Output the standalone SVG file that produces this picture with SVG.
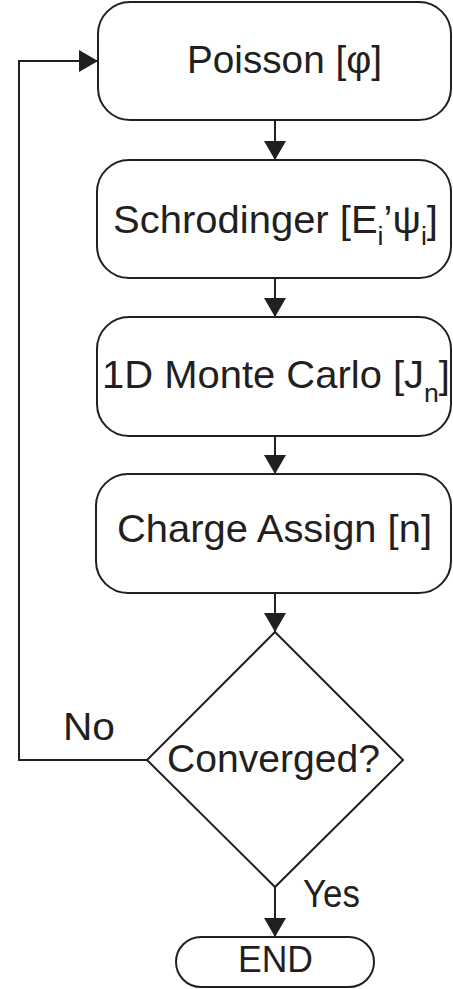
<svg xmlns="http://www.w3.org/2000/svg" width="453" height="989" viewBox="0 0 453 989">
<style>
.box{fill:#fff;stroke:#231f20;stroke-width:2}
.ln{fill:none;stroke:#231f20;stroke-width:2}
.t{font-family:"Liberation Sans",Arial,sans-serif;font-size:39px;fill:#231f20}
.sub{font-size:26px}
</style>
<defs>
<marker id="ah" viewBox="0 0 19 22" refX="19" refY="11" markerWidth="19" markerHeight="22" markerUnits="userSpaceOnUse" orient="auto">
<path d="M0,0 L19,11 L0,22 z" fill="#231f20"/>
</marker>
</defs>
<rect width="453" height="989" fill="#fff"/>
<g id="connectors">
<line class="ln" x1="275" y1="120" x2="275" y2="160" marker-end="url(#ah)"/>
<line class="ln" x1="275" y1="278" x2="275" y2="317" marker-end="url(#ah)"/>
<line class="ln" x1="275" y1="436" x2="275" y2="474" marker-end="url(#ah)"/>
<line class="ln" x1="275" y1="593" x2="275" y2="632" marker-end="url(#ah)"/>
<line class="ln" x1="275" y1="887" x2="275" y2="937" marker-end="url(#ah)"/>
<polyline class="ln" points="147,760 19,760 19,61 98,61" marker-end="url(#ah)"/>
<text class="t" x="63" y="740" textLength="52" lengthAdjust="spacingAndGlyphs">No</text>
<text class="t" x="303" y="907" textLength="57" lengthAdjust="spacingAndGlyphs">Yes</text>
</g>
<g id="poisson">
<rect class="box" x="98" y="2" width="353" height="118" rx="32"/>
<text class="t" x="187" y="73" textLength="195" lengthAdjust="spacingAndGlyphs">Poisson [φ]</text>
</g>
<g id="schrodinger">
<rect class="box" x="97" y="160" width="354" height="118" rx="32"/>
<text class="t" x="113" y="233" textLength="325" lengthAdjust="spacingAndGlyphs">Schrodinger [E<tspan class="sub" dy="12">i</tspan><tspan dy="-12">’ψ</tspan><tspan class="sub" dy="12">i</tspan><tspan dy="-12">]</tspan></text>
</g>
<g id="montecarlo">
<rect class="box" x="97" y="317" width="354" height="119" rx="32"/>
<text class="t" x="102" y="388" textLength="348" lengthAdjust="spacingAndGlyphs">1D Monte Carlo [J<tspan class="sub" dy="14">n</tspan><tspan dy="-14">]</tspan></text>
</g>
<g id="charge">
<rect class="box" x="96" y="474" width="355" height="119" rx="32"/>
<text class="t" x="117" y="542" textLength="315" lengthAdjust="spacingAndGlyphs">Charge Assign [n]</text>
</g>
<g id="converged">
<polygon class="box" points="275,632 403,760 275,887 147,760"/>
<text class="t" x="167" y="772" textLength="213" lengthAdjust="spacingAndGlyphs">Converged?</text>
</g>
<g id="end">
<rect class="box" x="176" y="937" width="198" height="50" rx="25"/>
<text class="t" x="238" y="972" font-size="36" style="font-size:36px" textLength="75" lengthAdjust="spacingAndGlyphs">END</text>
</g>
</svg>
